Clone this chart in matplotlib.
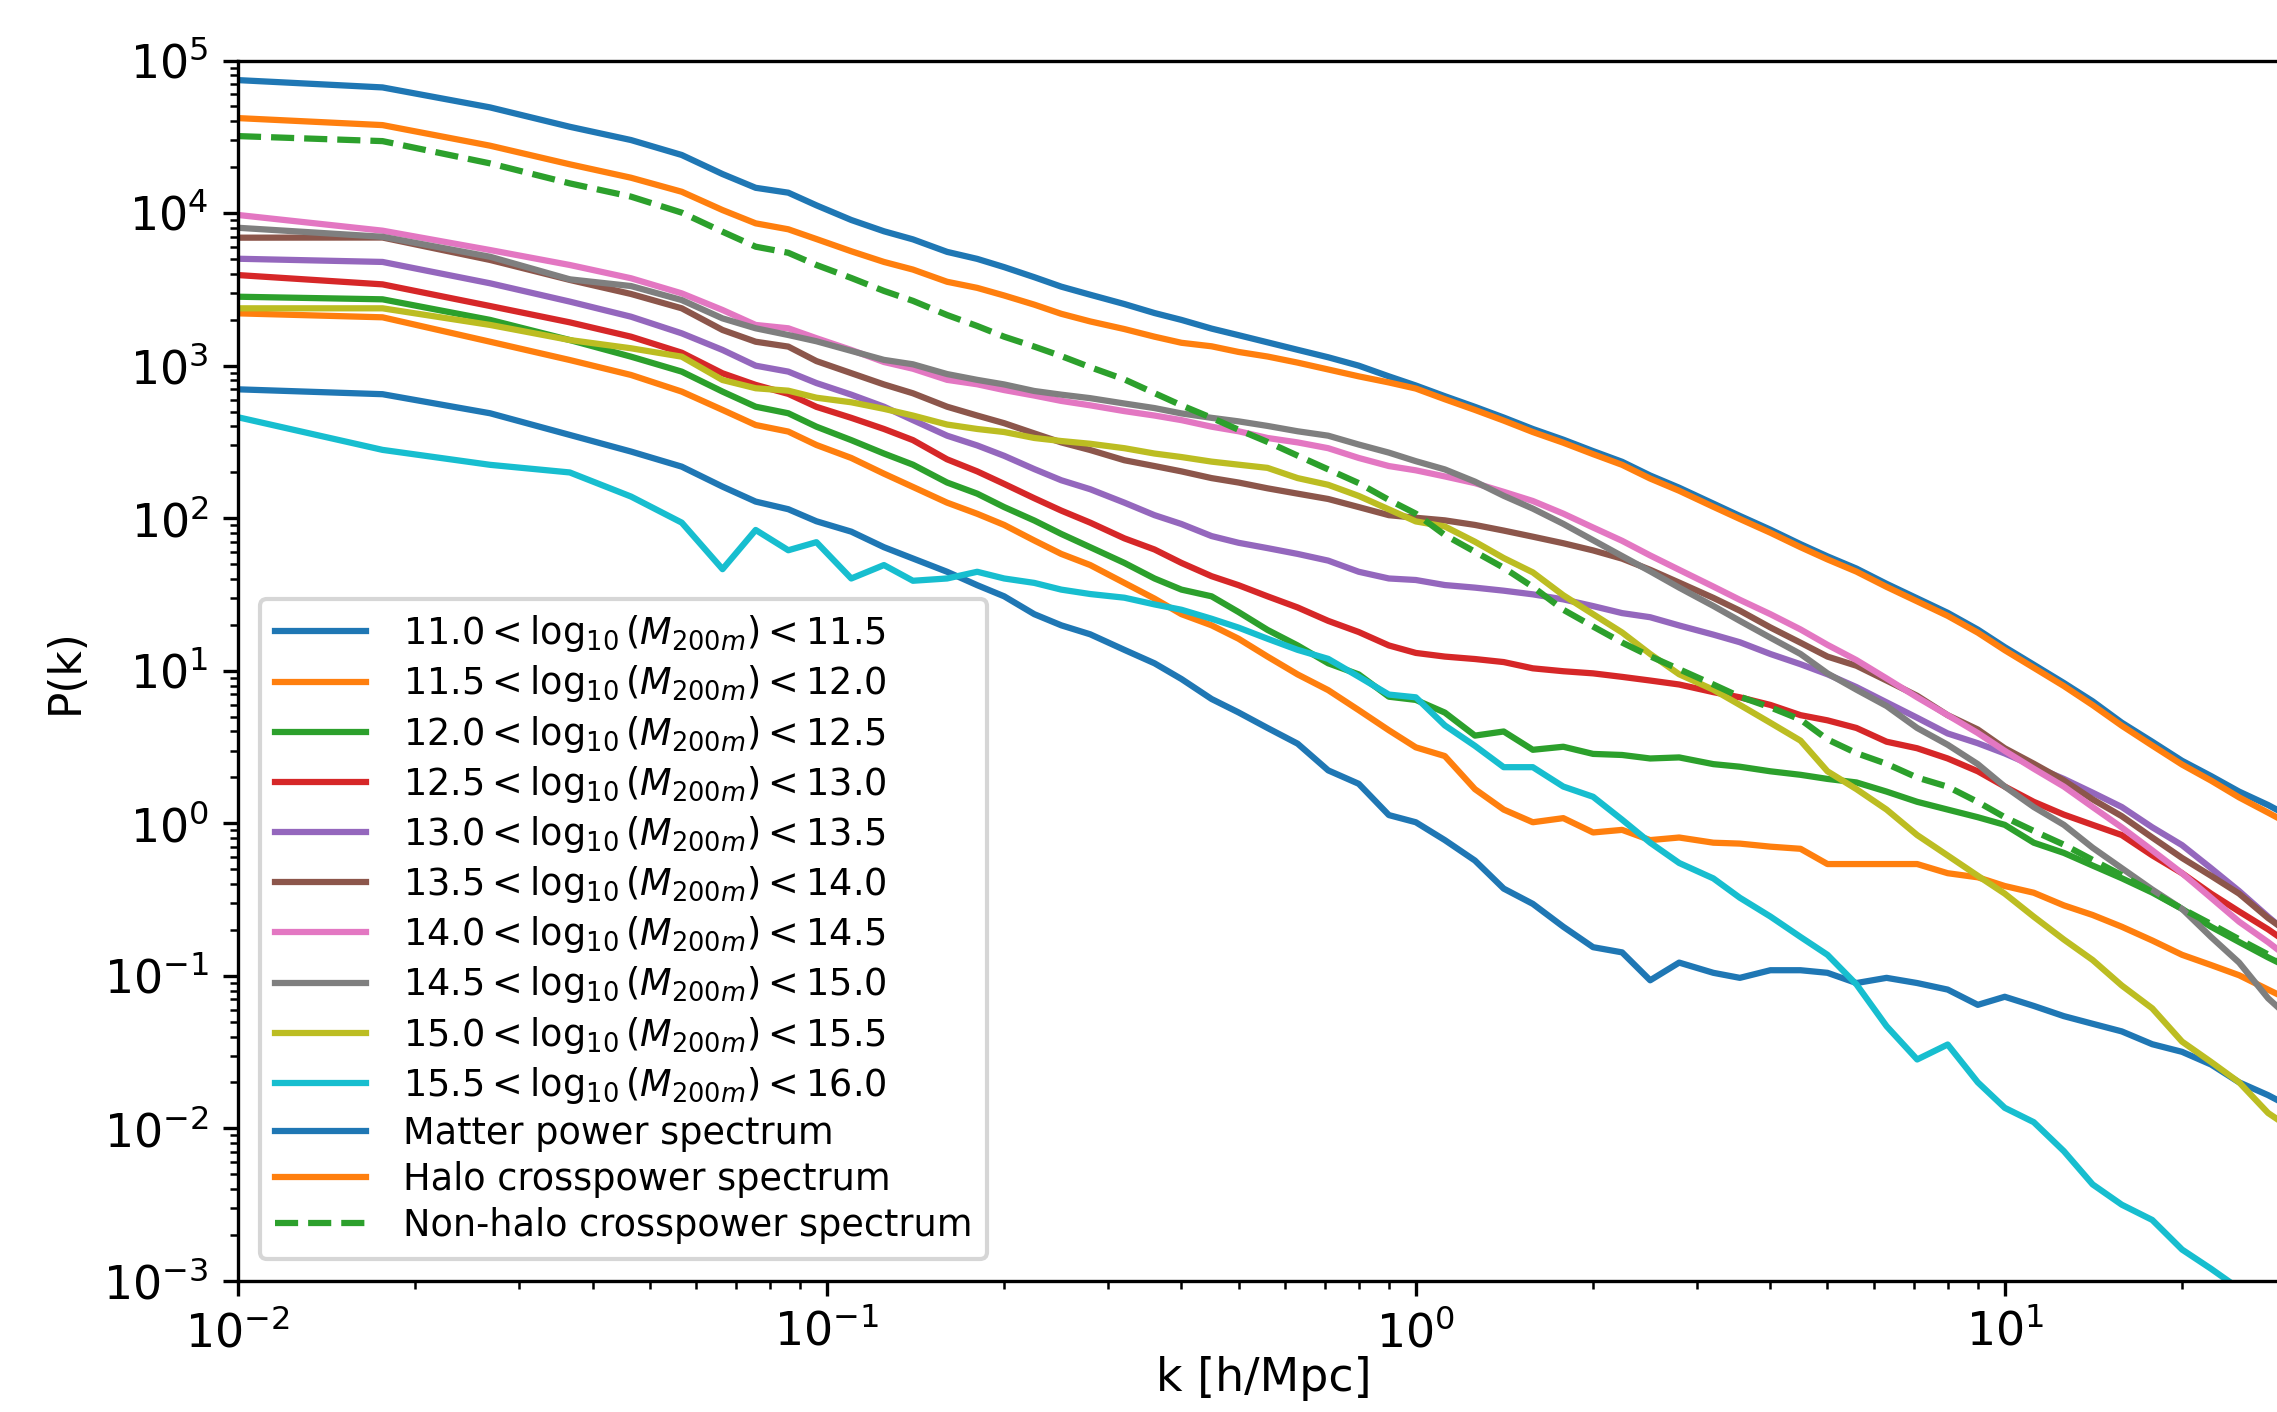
import numpy as np
import matplotlib
matplotlib.use("Agg")
from matplotlib import pyplot as plt


# k grid [h/Mpc] shared by all curves
k = [0.0100, 0.0176, 0.0268, 0.0366, 0.0465, 0.0567, 0.0665, 0.0757, 0.086, 0.096,
     0.11, 0.125, 0.14, 0.16, 0.18, 0.2, 0.225, 0.25, 0.28, 0.32,
     0.36, 0.4, 0.45, 0.5, 0.56, 0.63, 0.71, 0.8, 0.9, 1.0,
     1.12, 1.26, 1.41, 1.58, 1.78, 2.0, 2.24, 2.5, 2.8, 3.2,
     3.55, 4.0, 4.5, 5.0, 5.6, 6.3, 7.1, 8.0, 9.0, 10.0,
     11.2, 12.6, 14.1, 15.8, 17.8, 20.0, 22.4, 25.0, 28.0, 32.0]

# log10 P(k) for each mass bin
logp_110 = [2.845, 2.813, 2.688, 2.546, 2.437, 2.338, 2.207, 2.109, 2.059, 1.980,
            1.912, 1.810, 1.736, 1.649, 1.561, 1.488, 1.371, 1.298, 1.239, 1.137,
            1.049, 0.946, 0.815, 0.727, 0.625, 0.522, 0.347, 0.259, 0.054, 0.007,
            -0.110, -0.244, -0.428, -0.528, -0.678, -0.812, -0.846, -1.029, -0.913, -0.980,
            -1.013, -0.963, -0.963, -0.980, -1.047, -1.013, -1.047, -1.090, -1.190, -1.137,
            -1.197, -1.264, -1.314, -1.364, -1.448, -1.498, -1.581, -1.698, -1.782, -1.900]
logp_115 = [3.343, 3.317, 3.157, 3.037, 2.939, 2.830, 2.710, 2.611, 2.568, 2.480,
            2.395, 2.292, 2.205, 2.102, 2.029, 1.956, 1.854, 1.766, 1.693, 1.576,
            1.473, 1.371, 1.298, 1.210, 1.093, 0.976, 0.873, 0.742, 0.610, 0.498,
            0.441, 0.224, 0.090, 0.007, 0.034, -0.060, -0.043, -0.110, -0.093, -0.127,
            -0.133, -0.153, -0.167, -0.267, -0.267, -0.267, -0.267, -0.327, -0.354, -0.411,
            -0.455, -0.538, -0.601, -0.678, -0.768, -0.862, -0.929, -0.996, -1.090, -1.200]
logp_120 = [3.452, 3.435, 3.300, 3.168, 3.059, 2.961, 2.830, 2.731, 2.688, 2.600,
            2.512, 2.424, 2.351, 2.234, 2.161, 2.073, 1.985, 1.897, 1.810, 1.707,
            1.605, 1.532, 1.488, 1.385, 1.268, 1.166, 1.049, 0.976, 0.830, 0.809,
            0.726, 0.575, 0.602, 0.482, 0.502, 0.455, 0.448, 0.425, 0.432, 0.388,
            0.371, 0.341, 0.318, 0.291, 0.268, 0.208, 0.141, 0.090, 0.040, -0.010,
            -0.127, -0.194, -0.277, -0.360, -0.454, -0.561, -0.678, -0.778, -0.879, -0.990]
logp_125 = [3.594, 3.533, 3.391, 3.284, 3.190, 3.085, 2.950, 2.874, 2.815, 2.730,
            2.658, 2.585, 2.512, 2.386, 2.307, 2.225, 2.131, 2.050, 1.971, 1.868,
            1.795, 1.707, 1.620, 1.561, 1.488, 1.415, 1.327, 1.254, 1.166, 1.117,
            1.093, 1.077, 1.057, 1.016, 0.997, 0.983, 0.960, 0.936, 0.910, 0.860,
            0.826, 0.776, 0.709, 0.675, 0.625, 0.535, 0.492, 0.425, 0.341, 0.241,
            0.141, 0.057, -0.010, -0.077, -0.210, -0.327, -0.461, -0.578, -0.695, -0.850]
logp_130 = [3.701, 3.680, 3.540, 3.420, 3.321, 3.212, 3.103, 3.000, 2.961, 2.886,
            2.810, 2.731, 2.643, 2.541, 2.477, 2.409, 2.322, 2.249, 2.190, 2.102,
            2.020, 1.962, 1.883, 1.839, 1.804, 1.766, 1.722, 1.649, 1.605, 1.595,
            1.562, 1.545, 1.525, 1.501, 1.468, 1.424, 1.378, 1.351, 1.297, 1.237,
            1.187, 1.110, 1.043, 0.977, 0.893, 0.793, 0.692, 0.589, 0.525, 0.458,
            0.375, 0.291, 0.201, 0.107, -0.026, -0.143, -0.294, -0.444, -0.612, -0.800]
logp_135 = [3.839, 3.840, 3.693, 3.562, 3.470, 3.376, 3.234, 3.157, 3.125, 3.030,
            2.951, 2.877, 2.819, 2.731, 2.673, 2.623, 2.556, 2.497, 2.447, 2.380,
            2.342, 2.307, 2.263, 2.234, 2.196, 2.161, 2.126, 2.073, 2.020, 2.003,
            1.986, 1.956, 1.919, 1.879, 1.836, 1.789, 1.735, 1.662, 1.578, 1.478,
            1.394, 1.284, 1.184, 1.093, 1.033, 0.936, 0.836, 0.709, 0.615, 0.492,
            0.391, 0.281, 0.157, 0.047, -0.093, -0.227, -0.344, -0.461, -0.621, -0.780]
logp_140 = [3.988, 3.885, 3.758, 3.660, 3.573, 3.474, 3.365, 3.267, 3.245, 3.180,
            3.103, 3.024, 2.980, 2.907, 2.878, 2.840, 2.804, 2.769, 2.740, 2.702,
            2.673, 2.643, 2.600, 2.570, 2.526, 2.497, 2.459, 2.395, 2.342, 2.314,
            2.274, 2.230, 2.173, 2.113, 2.030, 1.939, 1.852, 1.756, 1.662, 1.552,
            1.465, 1.371, 1.271, 1.170, 1.070, 0.950, 0.826, 0.709, 0.592, 0.475,
            0.358, 0.241, 0.107, -0.027, -0.177, -0.327, -0.488, -0.645, -0.779, -0.950]
logp_145 = [3.904, 3.845, 3.714, 3.566, 3.522, 3.430, 3.310, 3.245, 3.201, 3.160,
            3.097, 3.038, 3.009, 2.945, 2.907, 2.877, 2.834, 2.810, 2.787, 2.752,
            2.722, 2.687, 2.658, 2.635, 2.605, 2.570, 2.541, 2.483, 2.430, 2.374,
            2.320, 2.240, 2.147, 2.063, 1.963, 1.856, 1.752, 1.652, 1.545, 1.425,
            1.327, 1.217, 1.110, 0.983, 0.876, 0.769, 0.625, 0.515, 0.388, 0.241,
            0.107, -0.010, -0.160, -0.294, -0.434, -0.561, -0.745, -0.913, -1.147, -1.350]
logp_150 = [3.376, 3.376, 3.267, 3.168, 3.114, 3.059, 2.906, 2.852, 2.836, 2.790,
            2.760, 2.717, 2.673, 2.614, 2.585, 2.565, 2.526, 2.506, 2.488, 2.459,
            2.424, 2.401, 2.371, 2.351, 2.330, 2.263, 2.219, 2.146, 2.058, 1.979,
            1.946, 1.846, 1.739, 1.645, 1.495, 1.371, 1.251, 1.110, 0.977, 0.876,
            0.776, 0.659, 0.542, 0.341, 0.224, 0.090, -0.077, -0.211, -0.344, -0.461,
            -0.612, -0.762, -0.896, -1.063, -1.213, -1.431, -1.564, -1.698, -1.899, -2.050]
logp_155 = [2.662, 2.448, 2.350, 2.300, 2.142, 1.971, 1.666, 1.923, 1.790, 1.843,
            1.605, 1.693, 1.590, 1.605, 1.649, 1.605, 1.576, 1.532, 1.503, 1.479,
            1.435, 1.400, 1.341, 1.283, 1.210, 1.137, 1.078, 0.961, 0.844, 0.826,
            0.642, 0.508, 0.368, 0.368, 0.241, 0.174, 0.024, -0.127, -0.260, -0.361,
            -0.488, -0.611, -0.745, -0.862, -1.056, -1.330, -1.548, -1.450, -1.698, -1.865,
            -1.959, -2.149, -2.367, -2.500, -2.600, -2.794, -2.920, -3.050, -3.150, -3.300]

logp_matter = [4.872, 4.824, 4.693, 4.566, 4.479, 4.381, 4.256, 4.166, 4.134, 4.051,
               3.955, 3.881, 3.828, 3.746, 3.700, 3.646, 3.580, 3.518, 3.465, 3.404,
               3.345, 3.300, 3.243, 3.200, 3.153, 3.104, 3.055, 3.000, 2.930, 2.870,
               2.800, 2.730, 2.660, 2.585, 2.515, 2.440, 2.370, 2.280, 2.200, 2.096,
               2.015, 1.925, 1.830, 1.750, 1.670, 1.570, 1.475, 1.380, 1.270, 1.155,
               1.040, 0.920, 0.800, 0.660, 0.535, 0.410, 0.310, 0.208, 0.120, 0.000]
logp_halo = [4.623, 4.577, 4.442, 4.320, 4.232, 4.140, 4.020, 3.933, 3.894, 3.830,
             3.750, 3.680, 3.630, 3.550, 3.510, 3.460, 3.400, 3.340, 3.290, 3.240,
             3.190, 3.150, 3.127, 3.090, 3.060, 3.020, 2.975, 2.930, 2.890, 2.850,
             2.780, 2.710, 2.640, 2.565, 2.495, 2.420, 2.350, 2.260, 2.180, 2.075,
             1.995, 1.905, 1.810, 1.730, 1.650, 1.550, 1.455, 1.360, 1.250, 1.135,
             1.020, 0.900, 0.775, 0.640, 0.510, 0.385, 0.280, 0.170, 0.070, -0.050]
logp_nonhalo = [4.505, 4.472, 4.326, 4.195, 4.108, 4.003, 3.878, 3.780, 3.740, 3.660,
                3.575, 3.490, 3.425, 3.332, 3.260, 3.190, 3.125, 3.063, 2.990, 2.910,
                2.820, 2.740, 2.658, 2.580, 2.500, 2.410, 2.320, 2.230, 2.120, 2.030,
                1.890, 1.780, 1.675, 1.550, 1.400, 1.290, 1.185, 1.095, 1.010, 0.910,
                0.830, 0.760, 0.680, 0.550, 0.460, 0.390, 0.300, 0.240, 0.140, 0.040,
                -0.050, -0.140, -0.240, -0.340, -0.450, -0.560, -0.660, -0.760, -0.860, -0.980]

bin_edges = [11.0, 11.5, 12.0, 12.5, 13.0, 13.5, 14.0, 14.5, 15.0, 15.5, 16.0]
bin_logp = [logp_110, logp_115, logp_120, logp_125, logp_130,
            logp_135, logp_140, logp_145, logp_150, logp_155]

fig = plt.figure(figsize=(2277 / 300, 1412 / 300), dpi=300)
# axes run slightly past the right edge of the figure, as in the original crop
ax = fig.add_axes([0.1045, 0.0928, 0.9012, 0.8643])

for i, lp in enumerate(bin_logp):
    lo, hi = bin_edges[i], bin_edges[i + 1]
    ax.loglog(k, 10 ** np.array(lp),
              label=rf'${lo:.1f} < \log_{{10}}(M_{{200m}}) < {hi:.1f}$')

ax.loglog(k, 10 ** np.array(logp_matter), label='Matter power spectrum')
ax.loglog(k, 10 ** np.array(logp_halo), label='Halo crosspower spectrum')
ax.loglog(k, 10 ** np.array(logp_nonhalo), '--', label='Non-halo crosspower spectrum')

ax.set_xlim(0.01, 30.5)
ax.set_ylim(1e-3, 1e5)
ax.tick_params(labelsize=11)
ax.set_xlabel('k [h/Mpc]', fontsize=11, labelpad=0)
ax.set_ylabel('P(k)', fontsize=10.5)
ax.legend(loc='lower left', fontsize=8.8, labelspacing=0.25,
          handlelength=2.5, handletextpad=1.0, borderaxespad=0.6)

fig.savefig('out.png', dpi=300)
